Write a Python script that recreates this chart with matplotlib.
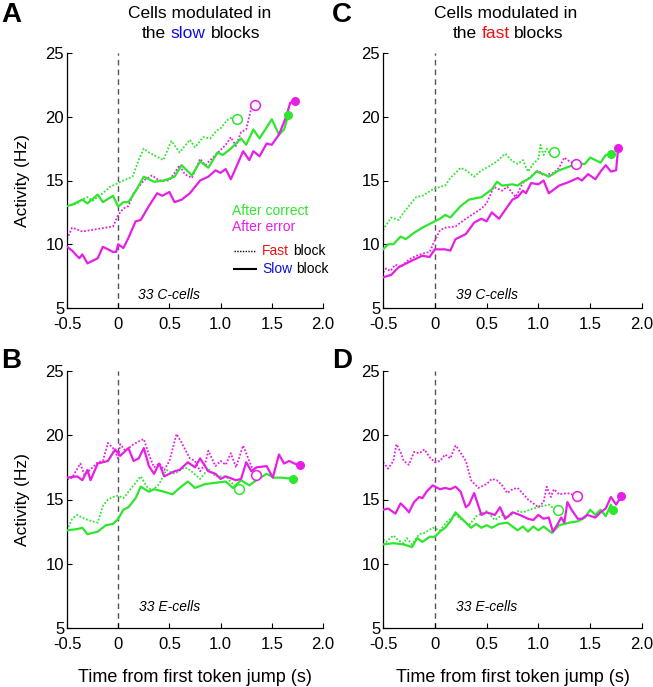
import matplotlib
matplotlib.use("Agg")
import matplotlib.pyplot as plt

plt.rcParams['font.family'] = ['Liberation Sans', 'DejaVu Sans']

GREEN = '#2ee62e'
MAGENTA = '#e61ee6'

# ---------------- data ----------------
# panel A : cells modulated in slow blocks, C-cells
A_fc_t = [-0.5, -0.45, -0.4, -0.35, -0.3, -0.25, -0.2, -0.15, -0.08, 0.0, 0.05, 0.14, 0.2, 0.25, 0.3, 0.44, 0.52, 0.6, 0.7, 0.75, 0.83, 0.9, 0.96, 1.0, 1.06, 1.1, 1.16]
A_fc_hz = [13.0, 13.1, 13.2, 13.5, 13.7, 13.4, 13.7, 14.0, 14.5, 14.8, 15.0, 15.3, 16.6, 17.5, 17.2, 16.6, 18.1, 17.2, 18.2, 17.6, 18.4, 18.3, 18.9, 19.1, 19.7, 19.9, 19.8]
A_sc_t = [-0.5, -0.45, -0.35, -0.3, -0.2, -0.15, -0.05, 0.0, 0.05, 0.1, 0.18, 0.25, 0.35, 0.45, 0.55, 0.62, 0.72, 0.8, 0.88, 0.97, 1.02, 1.1, 1.2, 1.25, 1.32, 1.38, 1.5, 1.57, 1.62, 1.66]
A_sc_hz = [13.0, 13.1, 13.5, 13.2, 13.9, 13.3, 13.8, 12.95, 13.3, 13.3, 14.3, 15.3, 14.9, 15.0, 15.3, 16.2, 15.4, 16.5, 16.0, 17.2, 17.0, 17.5, 18.3, 17.8, 19.0, 18.3, 19.8, 18.6, 19.0, 20.1]
A_fe_t = [-0.5, -0.45, -0.35, -0.2, -0.05, 0.0, 0.05, 0.1, 0.15, 0.25, 0.33, 0.4, 0.5, 0.6, 0.65, 0.72, 0.8, 0.85, 0.95, 1.05, 1.1, 1.15, 1.2, 1.25, 1.3, 1.34]
A_fe_hz = [10.4, 11.3, 11.0, 11.2, 11.4, 12.3, 12.8, 13.0, 14.0, 15.0, 15.4, 15.0, 15.0, 16.2, 15.5, 15.2, 16.7, 16.2, 17.0, 17.8, 18.4, 17.7, 18.8, 19.0, 20.7, 20.9]
A_se_t = [-0.5, -0.45, -0.38, -0.35, -0.3, -0.2, -0.15, -0.05, -0.02, 0.0, 0.05, 0.1, 0.17, 0.22, 0.3, 0.38, 0.43, 0.5, 0.55, 0.62, 0.7, 0.8, 0.88, 0.95, 1.0, 1.05, 1.1, 1.15, 1.22, 1.28, 1.32, 1.38, 1.45, 1.5, 1.57, 1.64, 1.68, 1.73]
A_se_hz = [9.8, 9.5, 8.9, 9.2, 8.5, 8.9, 9.8, 9.4, 9.4, 10.0, 9.7, 10.5, 11.8, 11.9, 13.0, 14.0, 13.8, 14.1, 13.3, 13.5, 14.0, 15.0, 15.3, 15.8, 15.6, 15.9, 15.1, 16.0, 17.3, 16.6, 17.3, 16.9, 17.9, 17.8, 18.6, 20.0, 21.1, 21.2]

# panel B : cells modulated in slow blocks, E-cells
B_fc_t = [-0.5, -0.45, -0.4, -0.33, -0.25, -0.2, -0.15, -0.1, -0.05, 0.0, 0.05, 0.15, 0.22, 0.28, 0.33, 0.4, 0.47, 0.55, 0.65, 0.7, 0.8, 0.88, 0.95, 1.05, 1.12, 1.18]
B_fc_hz = [12.6, 13.5, 13.8, 13.5, 13.3, 13.2, 14.5, 15.0, 15.2, 15.3, 15.1, 16.1, 16.8, 16.0, 15.7, 16.2, 17.3, 17.0, 17.5, 17.3, 16.6, 17.4, 16.8, 16.8, 16.2, 15.85]
B_sc_t = [-0.5, -0.4, -0.35, -0.3, -0.2, -0.12, -0.05, 0.0, 0.05, 0.1, 0.17, 0.22, 0.3, 0.35, 0.45, 0.53, 0.6, 0.68, 0.75, 0.85, 0.95, 1.05, 1.12, 1.2, 1.28, 1.35, 1.45, 1.52, 1.6, 1.71]
B_sc_hz = [12.6, 12.7, 12.8, 12.3, 12.5, 13.0, 13.1, 13.5, 14.2, 14.4, 15.1, 16.0, 15.6, 15.8, 15.6, 15.4, 15.9, 16.4, 15.9, 16.2, 16.3, 16.4, 15.9, 16.5, 16.1, 16.5, 17.0, 16.7, 16.7, 16.6]
B_fe_t = [-0.5, -0.45, -0.37, -0.33, -0.25, -0.2, -0.15, -0.1, -0.05, 0.0, 0.02, 0.07, 0.15, 0.22, 0.25, 0.3, 0.35, 0.4, 0.45, 0.5, 0.57, 0.62, 0.7, 0.75, 0.8, 0.85, 0.88, 0.95, 1.0, 1.05, 1.1, 1.15, 1.22, 1.27, 1.32, 1.35]
B_fe_hz = [16.55, 16.7, 17.8, 16.9, 17.5, 17.9, 18.0, 19.4, 19.0, 18.2, 19.3, 18.8, 19.3, 19.6, 19.7, 18.5, 17.5, 17.8, 17.3, 18.0, 20.1, 19.4, 18.2, 18.0, 17.2, 17.8, 18.8, 17.6, 18.0, 17.7, 18.6, 17.5, 19.2, 18.2, 17.2, 16.9]
B_se_t = [-0.5, -0.4, -0.35, -0.3, -0.27, -0.2, -0.1, -0.03, 0.02, 0.1, 0.15, 0.2, 0.25, 0.3, 0.35, 0.4, 0.45, 0.55, 0.6, 0.68, 0.75, 0.8, 0.88, 0.95, 1.0, 1.05, 1.15, 1.2, 1.25, 1.3, 1.35, 1.45, 1.51, 1.57, 1.62, 1.67, 1.72, 1.78]
B_se_hz = [16.7, 16.8, 16.5, 17.3, 16.5, 17.8, 18.0, 18.9, 18.4, 19.0, 18.0, 18.2, 19.0, 17.6, 17.0, 17.8, 16.8, 17.2, 17.3, 17.9, 17.5, 18.2, 17.2, 17.0, 16.6, 16.8, 16.5, 16.6, 17.9, 17.2, 17.5, 17.6, 16.7, 18.5, 17.8, 18.0, 17.8, 17.65]

# panel C : cells modulated in fast blocks, C-cells
C_fc_t = [-0.5, -0.47, -0.42, -0.35, -0.3, -0.25, -0.18, -0.12, -0.02, 0.05, 0.1, 0.15, 0.25, 0.3, 0.38, 0.45, 0.5, 0.6, 0.68, 0.75, 0.8, 0.85, 0.9, 0.95, 1.0, 1.02, 1.05, 1.08, 1.12, 1.15]
C_fc_hz = [11.1, 11.5, 12.1, 11.9, 12.5, 13.0, 13.7, 13.8, 14.3, 14.5, 14.6, 15.2, 16.0, 15.8, 15.3, 15.8, 16.0, 16.5, 17.1, 16.5, 16.3, 16.6, 15.7, 16.3, 16.7, 17.8, 17.0, 17.5, 17.0, 17.2]
C_sc_t = [-0.5, -0.45, -0.4, -0.33, -0.28, -0.2, -0.12, 0.0, 0.05, 0.1, 0.15, 0.25, 0.33, 0.45, 0.55, 0.6, 0.65, 0.75, 0.8, 0.85, 0.92, 0.98, 1.05, 1.1, 1.2, 1.3, 1.38, 1.45, 1.5, 1.6, 1.65, 1.7]
C_sc_hz = [9.6, 10.0, 10.0, 10.6, 10.4, 10.9, 11.3, 11.8, 12.0, 12.3, 12.1, 13.0, 13.5, 13.7, 14.3, 14.9, 14.6, 14.7, 14.6, 14.9, 15.2, 15.7, 15.5, 15.3, 15.8, 16.1, 16.3, 16.3, 16.8, 16.4, 17.0, 17.05]
C_fe_t = [-0.5, -0.47, -0.43, -0.38, -0.33, -0.25, -0.18, -0.1, -0.05, 0.0, 0.05, 0.1, 0.2, 0.3, 0.45, 0.5, 0.57, 0.65, 0.7, 0.78, 0.85, 1.0, 1.05, 1.15, 1.2, 1.25, 1.3, 1.36]
C_fe_hz = [7.8, 8.1, 7.9, 8.4, 8.2, 8.8, 9.1, 9.3, 9.4, 10.3, 11.1, 11.3, 11.4, 12.0, 12.8, 13.2, 14.5, 14.2, 14.5, 13.7, 14.8, 15.8, 15.4, 15.6, 16.0, 16.8, 16.5, 16.3]
C_se_t = [-0.5, -0.42, -0.35, -0.3, -0.2, -0.12, -0.05, 0.0, 0.1, 0.15, 0.2, 0.3, 0.38, 0.45, 0.5, 0.55, 0.62, 0.68, 0.75, 0.8, 0.85, 0.88, 0.93, 1.0, 1.05, 1.1, 1.2, 1.3, 1.38, 1.42, 1.48, 1.55, 1.6, 1.65, 1.7, 1.75, 1.77]
C_se_hz = [7.4, 7.6, 8.2, 8.4, 8.8, 9.1, 9.0, 9.6, 9.6, 9.5, 10.4, 10.8, 11.7, 12.0, 11.8, 12.5, 12.0, 12.7, 13.5, 13.7, 14.2, 14.0, 14.8, 14.7, 15.0, 14.0, 14.6, 14.9, 15.2, 15.0, 15.5, 15.1, 15.7, 16.2, 15.7, 15.8, 17.55]

# panel D : cells modulated in fast blocks, E-cells
D_fc_t = [-0.5, -0.47, -0.4, -0.35, -0.3, -0.27, -0.22, -0.15, -0.1, -0.02, 0.05, 0.12, 0.2, 0.25, 0.33, 0.4, 0.5, 0.58, 0.65, 0.7, 0.8, 0.85, 0.95, 1.05, 1.1, 1.15, 1.19]
D_fc_hz = [11.9, 11.7, 12.2, 11.8, 11.6, 12.0, 11.5, 12.3, 12.4, 12.8, 12.6, 13.3, 13.8, 13.5, 13.0, 13.7, 14.1, 13.4, 13.8, 13.6, 14.1, 14.0, 14.3, 14.5, 14.6, 14.3, 14.2]
D_sc_t = [-0.5, -0.4, -0.3, -0.22, -0.17, -0.12, -0.05, 0.0, 0.05, 0.1, 0.15, 0.2, 0.25, 0.3, 0.35, 0.4, 0.45, 0.5, 0.55, 0.62, 0.7, 0.75, 0.8, 0.85, 0.9, 0.95, 1.0, 1.05, 1.13, 1.2, 1.3, 1.38, 1.45, 1.5, 1.55, 1.6, 1.65, 1.7, 1.72]
D_sc_hz = [11.5, 11.6, 11.5, 11.3, 12.0, 11.7, 12.1, 12.1, 12.5, 12.8, 13.3, 14.0, 13.6, 13.2, 12.8, 13.1, 12.8, 13.0, 12.8, 13.1, 13.2, 12.9, 12.6, 12.9, 12.5, 12.9, 12.6, 12.9, 12.4, 13.0, 13.2, 13.3, 13.6, 14.2, 13.8, 14.2, 13.7, 14.6, 14.2]
D_fe_t = [-0.5, -0.45, -0.4, -0.37, -0.33, -0.3, -0.25, -0.2, -0.15, -0.1, -0.05, 0.0, 0.05, 0.1, 0.15, 0.2, 0.22, 0.3, 0.35, 0.42, 0.5, 0.55, 0.6, 0.65, 0.7, 0.75, 0.8, 0.9, 0.95, 1.0, 1.05, 1.08, 1.12, 1.15, 1.2, 1.28, 1.32, 1.37]
D_fe_hz = [17.9, 17.4, 18.0, 19.3, 18.7, 18.0, 17.7, 18.7, 18.6, 18.9, 18.3, 17.9, 18.0, 18.5, 18.2, 19.2, 19.0, 18.0, 16.5, 15.9, 16.2, 16.6, 16.5, 16.1, 15.5, 15.8, 15.9, 15.0, 14.7, 14.4, 14.8, 16.0, 15.2, 15.8, 15.4, 15.5, 15.4, 15.25]
D_se_t = [-0.5, -0.45, -0.38, -0.33, -0.28, -0.25, -0.2, -0.15, -0.12, -0.08, -0.02, 0.05, 0.1, 0.15, 0.2, 0.25, 0.3, 0.33, 0.38, 0.45, 0.5, 0.58, 0.63, 0.68, 0.75, 0.82, 0.9, 0.95, 1.0, 1.05, 1.1, 1.14, 1.18, 1.22, 1.25, 1.28, 1.32, 1.38, 1.42, 1.47, 1.55, 1.6, 1.65, 1.7, 1.75, 1.8]
D_se_hz = [14.2, 14.3, 13.9, 14.7, 14.3, 14.0, 14.8, 15.2, 15.1, 15.6, 16.1, 15.8, 15.9, 15.8, 16.0, 15.6, 14.4, 14.6, 15.5, 13.8, 14.0, 13.8, 14.4, 13.5, 14.0, 13.8, 13.5, 13.4, 13.8, 13.5, 13.6, 12.5, 13.0, 13.6, 13.2, 14.8, 14.2, 13.5, 13.5, 13.8, 13.6, 14.0, 14.3, 15.2, 14.6, 15.25]

x_ticks = [-0.5, 0, 0.5, 1.0, 1.5, 2.0]
x_ticklabels = ['-0.5', '0', '0.5', '1.0', '1.5', '2.0']
y_ticks = [5, 10, 15, 20, 25]
cell_labels = ['33 C-cells', '33 E-cells', '39 C-cells', '33 E-cells']

W, H = 653, 687
fig = plt.figure(figsize=(W / 100, H / 100), dpi=100)


def ax_at(l, t, r, b):
    return fig.add_axes([l / W, 1 - b / H, (r - l) / W, (b - t) / H])


axA = ax_at(67, 53, 323, 308)
axB = ax_at(67, 371, 323, 628)
axC = ax_at(383, 53, 642, 308)
axD = ax_at(383, 371, 642, 628)

panels = [
    (axA, A_fc_t, A_fc_hz, A_sc_t, A_sc_hz, A_fe_t, A_fe_hz, A_se_t, A_se_hz, cell_labels[0], 6.0),
    (axB, B_fc_t, B_fc_hz, B_sc_t, B_sc_hz, B_fe_t, B_fe_hz, B_se_t, B_se_hz, cell_labels[1], 6.6),
    (axC, C_fc_t, C_fc_hz, C_sc_t, C_sc_hz, C_fe_t, C_fe_hz, C_se_t, C_se_hz, cell_labels[2], 6.0),
    (axD, D_fc_t, D_fc_hz, D_sc_t, D_sc_hz, D_fe_t, D_fe_hz, D_se_t, D_se_hz, cell_labels[3], 6.6),
]

for ax, fct, fch, sct, sch, fet, feh, set_, seh, lab, ly in panels:
    ax.axvline(0, color='#555555', lw=1, ls=(0, (4, 3)), zorder=1)
    for t, h, c in [(sct, sch, GREEN), (set_, seh, MAGENTA)]:
        ax.plot(t, h, color=c, lw=1.6, solid_joinstyle='round', zorder=3)
        ax.plot(t[-1], h[-1], 'o', color=c, ms=5.5, zorder=4)
    for t, h, c in [(fct, fch, GREEN), (fet, feh, MAGENTA)]:
        ax.plot(t, h, color=c, lw=1.3, ls=(0, (1, 1)), zorder=2)
        ax.plot(t[-1], h[-1], 'o', mfc='white', mec=c, mew=1.1, ms=7, zorder=4)
    ax.set_xlim(-0.5, 2.0)
    ax.set_ylim(5, 25)
    ax.set_xticks(x_ticks)
    ax.set_xticklabels(x_ticklabels)
    ax.set_yticks(y_ticks)
    ax.tick_params(direction='in', length=3.5, width=0.8, labelsize=12, pad=2)
    ax.tick_params(axis='x', pad=6.5)
    for s in ['top', 'right']:
        ax.spines[s].set_visible(False)
    for s in ['left', 'bottom']:
        ax.spines[s].set_linewidth(0.9)
    ax.text(0.5, ly, lab, style='italic', fontsize=10, ha='center', va='center')

for ax in (axA, axB):
    ax.set_ylabel('Activity (Hz)', fontsize=12.5, labelpad=11)
for ax in (axB, axD):
    ax.set_xlabel('Time from first token jump (s)', fontsize=13, labelpad=12)

# panel letters
for s, x, y in [('A', 1, 22), ('B', 1, 368), ('C', 332, 22), ('D', 332, 368)]:
    fig.text(x / W, 1 - y / H, s, fontsize=20, fontweight='bold', va='baseline')

renderer = fig.canvas.get_renderer()


def text_width(s, **kw):
    t = fig.text(0, 0, s, **kw)
    w = t.get_window_extent(renderer).width
    t.remove()
    return w


def color_text(x, y, parts, center=False, **kw):
    full = ''.join(p for p, _ in parts)
    left = x - text_width(full, **kw) / 2 if center else x
    acc = ''
    for p, c in parts:
        acc += p
        end = left + text_width(acc.rstrip(), **kw)
        fig.text(end / W, 1 - y / H, p.strip(), color=c, ha='right', va='baseline', **kw)


# titles
fig.text(200 / W, 1 - 18 / H, 'Cells modulated in', fontsize=12.5, ha='center', va='baseline')
color_text(201, 38, [('the ', 'black'), ('slow', '#1010dd'), (' blocks', 'black')], center=True, fontsize=12.5)
fig.text(506 / W, 1 - 18 / H, 'Cells modulated in', fontsize=12.5, ha='center', va='baseline')
color_text(508, 38, [('the ', 'black'), ('fast', '#ee1111'), (' blocks', 'black')], center=True, fontsize=12.5)

# legend in panel A
fig.text(232 / W, 1 - 215 / H, 'After correct', color=GREEN, fontsize=10, va='baseline')
fig.text(232 / W, 1 - 231 / H, 'After error', color=MAGENTA, fontsize=10, va='baseline')
fig.add_artist(plt.Line2D([234 / W, 256 / W], [1 - 251 / H] * 2, color='black', lw=1.0, ls=(0, (1, 1))))
fig.add_artist(plt.Line2D([234 / W, 256 / W], [1 - 269 / H] * 2, color='black', lw=1.5))
color_text(262, 255, [('Fast', '#ee1111'), (' block', 'black')], fontsize=10)
color_text(262, 273, [('Slow', '#1010dd'), (' block', 'black')], fontsize=10)

fig.savefig('out.png', dpi=100)
